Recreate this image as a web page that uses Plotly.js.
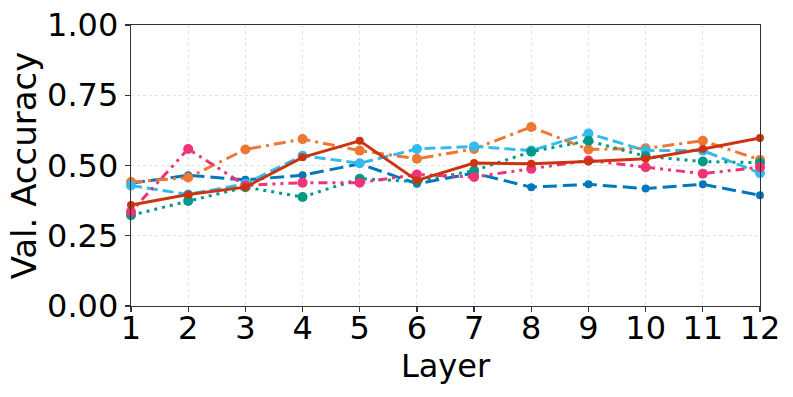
<!DOCTYPE html>
<html>
<head>
<meta charset="utf-8">
<script src="https://cdn.plot.ly/plotly-3.0.1.min.js"></script>
<style>html,body{margin:0;padding:0;background:#fff;}#chart{width:793px;height:397px;}</style>
</head>
<body>
<div id="chart"></div>
<script>
const layers = [1,2,3,4,5,6,7,8,9,10,11,12];
const blueVals   = [0.437,0.465,0.449,0.465,0.506,0.435,0.473,0.423,0.433,0.418,0.433,0.394];
const orangeVals = [0.441,0.457,0.557,0.594,0.553,0.524,0.559,0.637,0.557,0.561,0.588,0.520];
const cyanVals   = [0.429,0.397,0.435,0.535,0.508,0.559,0.568,0.553,0.614,0.553,0.553,0.473];
const pinkVals   = [0.335,0.559,0.429,0.439,0.439,0.468,0.459,0.488,0.518,0.494,0.471,0.494];
const redVals    = [0.359,0.397,0.423,0.529,0.588,0.447,0.509,0.506,0.514,0.524,0.559,0.598];
const tealVals   = [0.323,0.374,0.423,0.388,0.453,0.443,0.482,0.549,0.588,0.533,0.514,0.510];
const yTicks = [0, 0.25, 0.5, 0.75, 1.0];
const yTickText = ["0.00","0.25","0.50","0.75","1.00"];

function tr(y, color, dash, msize){
  return {x: layers, y: y, type:'scatter', mode:'lines+markers',
    line:{color:color, width:3, dash:dash}, marker:{color:color, size:msize}, showlegend:false, cliponaxis:false};
}
const data = [
  tr(blueVals, '#0077BB', '14px,6px', 8),
  tr(orangeVals, '#EE7733', '12px,5px,3px,5px', 10),
  tr(cyanVals, '#33BBEE', '11px,5px', 10),
  tr(tealVals, '#009988', '3px,5px', 10),
  tr(pinkVals, '#EE3377', '3px,5px,3px,5px,9px,5px', 10),
  tr(redVals, '#CC3311', 'solid', 8)
];
const font = {family:'DejaVu Sans, sans-serif', size:32, color:'#000'};
const yTitleFont = {family:'DejaVu Sans, sans-serif', size:34, color:'#000'};
const layout = {
  width:793, height:397,
  margin:{l:131, r:33, t:25, b:91},
  paper_bgcolor:'#fff', plot_bgcolor:'#fff',
  font: font,
  xaxis:{range:[1,12], tickvals:layers, ticktext:layers.map(String),
    showline:true, mirror:true, linecolor:'#333', linewidth:1.3,
    ticks:'outside', ticklen:5, tickcolor:'#333', tickwidth:1.2,
    ticklabelstandoff:-12,
    showgrid:true, gridcolor:'#e2e2e2', griddash:'dot', gridwidth:1, zeroline:false,
    tickfont:font, title:{text:'Layer', font:font, standoff:0}},
  yaxis:{range:[0,1], tickvals:yTicks, ticktext:yTickText,
    showline:true, mirror:true, linecolor:'#333', linewidth:1.3,
    ticks:'outside', ticklen:5, tickcolor:'#333', tickwidth:1.2,
    showgrid:true, gridcolor:'#e2e2e2', griddash:'dot', gridwidth:1, zeroline:false,
    tickfont:font, title:{text:'Val. Accuracy', font:yTitleFont, standoff:0}}
};
Plotly.newPlot('chart', data, layout, {displayModeBar:false, staticPlot:true});
</script>
</body>
</html>
